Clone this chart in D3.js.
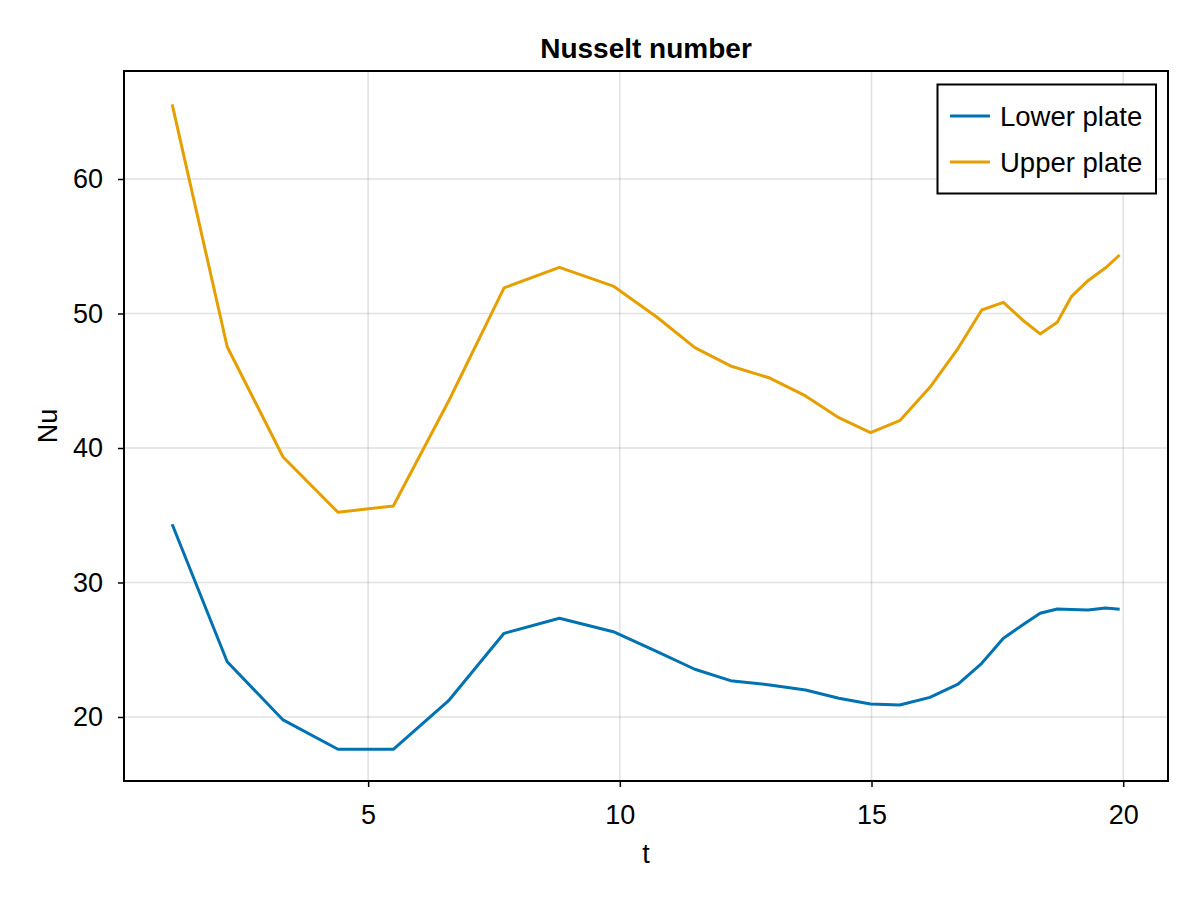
<!DOCTYPE html>
<html>
<head>
<meta charset="utf-8">
<script src="https://cdn.jsdelivr.net/npm/d3@7"></script>
<style>
  body { margin: 0; background: #fff; }
  text { font-family: "Liberation Sans", Arial, sans-serif; }
</style>
</head>
<body>
<script>
// time samples and the two Nusselt series
const times = [1.107, 2.2, 3.31, 4.40, 5.50, 6.61, 7.70, 8.80, 9.87, 10.74, 11.49, 12.2, 12.98, 13.69,
    14.35, 14.98, 15.56, 16.16, 16.72, 17.19, 17.62, 18.0, 18.35, 18.69, 18.97, 19.3, 19.65, 19.93];
const lowerNu = [34.33, 24.11, 19.78, 17.6, 17.6, 21.26, 26.22, 27.34, 26.34, 24.86, 23.55, 22.7, 22.38, 22.0,
    21.39, 20.97, 20.89, 21.46, 22.45, 23.99, 25.85, 26.84, 27.71, 28.03, 28.0, 27.96, 28.1, 28.01];
const upperNu = [65.55, 47.53, 39.33, 35.22, 35.69, 43.57, 51.9, 53.43, 52.04, 49.72, 47.46, 46.1, 45.2, 43.87,
    42.25, 41.14, 42.03, 44.51, 47.41, 50.26, 50.83, 49.52, 48.48, 49.35, 51.25, 52.44, 53.4, 54.35];
const seriesNames = ["Lower plate", "Upper plate"];
const seriesColors = ["#0072B2", "#E69F00"];
const xTicks = [5, 10, 15, 20];
const yTicks = [20, 30, 40, 50, 60];

const W = 1200, H = 900;
const pL = 124, pR = 1168, pT = 71, pB = 781;
const fs = 27;

const svg = d3.select("body").append("svg")
    .attr("width", W)
    .attr("height", H);

const x = d3.scaleLinear().domain([0.15, 20.89]).range([pL, pR]);
const y = d3.scaleLinear().domain([15.24, 68.03]).range([pB, pT]);

// grid
svg.append("g").selectAll("line")
    .data(xTicks).enter().append("line")
    .attr("x1", d => x(d)).attr("x2", d => x(d))
    .attr("y1", pT).attr("y2", pB)
    .attr("stroke", "rgba(0,0,0,0.12)").attr("stroke-width", 1.5);
svg.append("g").selectAll("line")
    .data(yTicks).enter().append("line")
    .attr("x1", pL).attr("x2", pR)
    .attr("y1", d => y(d)).attr("y2", d => y(d))
    .attr("stroke", "rgba(0,0,0,0.12)").attr("stroke-width", 1.5);

// series
const series = [lowerNu, upperNu];
const line = d3.line().x(d => x(d[0])).y(d => y(d[1]));
series.forEach((vals, i) => {
    svg.append("path")
        .datum(times.map((t, k) => [t, vals[k]]))
        .attr("d", line)
        .attr("fill", "none")
        .attr("stroke", seriesColors[i])
        .attr("stroke-width", 3)
        .attr("stroke-linejoin", "round");
});

// axes
const xAxis = svg.append("g")
    .attr("transform", `translate(0,${pB})`)
    .call(d3.axisBottom(x).tickValues(xTicks).tickSize(6).tickPadding(18));
const yAxis = svg.append("g")
    .attr("transform", `translate(${pL},0)`)
    .call(d3.axisLeft(y).tickValues(yTicks).tickSize(6).tickPadding(15));
[xAxis, yAxis].forEach(g => {
    g.select(".domain").remove();
    g.selectAll(".tick line").attr("stroke", "#000").attr("stroke-width", 1.5);
    g.selectAll(".tick text").attr("font-size", fs).attr("fill", "#000")
        .style("font-family", "'Liberation Sans', Arial, sans-serif");
});

// frame
svg.append("rect")
    .attr("x", pL).attr("y", pT)
    .attr("width", pR - pL).attr("height", pB - pT)
    .attr("fill", "none").attr("stroke", "#000").attr("stroke-width", 2);

// labels
svg.append("text")
    .attr("x", (pL + pR) / 2).attr("y", 58)
    .attr("text-anchor", "middle")
    .attr("font-size", 28).attr("font-weight", "bold")
    .text("Nusselt number");
svg.append("text")
    .attr("x", (pL + pR) / 2).attr("y", 863)
    .attr("text-anchor", "middle")
    .attr("font-size", fs)
    .text("t");
svg.append("text")
    .attr("transform", `translate(57,${(pT + pB) / 2}) rotate(-90)`)
    .attr("text-anchor", "middle")
    .attr("font-size", fs)
    .text("Nu");

// legend
const legend = svg.append("g");
legend.append("rect")
    .attr("x", 937.5).attr("y", 84.5)
    .attr("width", 218.5).attr("height", 109)
    .attr("fill", "#fff").attr("stroke", "#000").attr("stroke-width", 2);
seriesNames.forEach((name, i) => {
    const ly = 116 + i * 46;
    legend.append("line")
        .attr("x1", 950).attr("x2", 990)
        .attr("y1", ly).attr("y2", ly)
        .attr("stroke", seriesColors[i]).attr("stroke-width", 3);
    legend.append("text")
        .attr("x", 1000).attr("y", ly + 10)
        .attr("font-size", 27.5)
        .text(name);
});
</script>
</body>
</html>
